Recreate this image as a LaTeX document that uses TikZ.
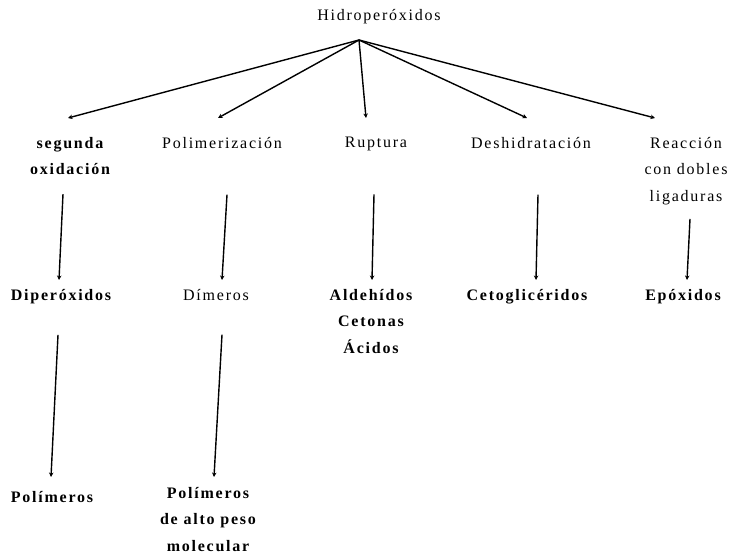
\documentclass[tikz,border=0pt]{standalone}
\usepackage{fontspec}
\setmainfont{Liberation Serif}[LetterSpace=11]
\usetikzlibrary{arrows.meta,calc}
\tikzset{
    lbl/.style={inner sep=0pt,anchor=north,align=center,font=\fontsize{16}{26.5}\selectfont},
    blbl/.style={lbl,font=\fontsize{16}{26.5}\selectfont\bfseries},
    arr/.style={line width=1.4pt,-{Stealth[length=4.5pt,width=4.5pt]}}
}

\begin{document}
\begin{tikzpicture}[x=1pt,y=-1pt]
            \useasboundingbox (0,0) rectangle (734,556);
            \node[lbl] (hid) at (379,9) {Hidroperóxidos};
            \coordinate (apex) at (359,40);
            \node[blbl] (seg) at (70,137) {segunda\\oxidación};
            \node[lbl] (pol) at (222,137) {Polimerización};
            \node[lbl] (rup) at (376,137) {Ruptura};
            \node[lbl] (des) at (531,137) {Deshidratación};
            \node[lbl] (rea) at (686,137) {Reacción\\con dobles\\ligaduras};
            \node[blbl] (dip) at (61,289) {Diperóxidos};
            \node[lbl] (dim) at (216,289) {Dímeros};
            \node[blbl] (ald) at (371,289) {Aldehídos\\Cetonas\\Ácidos};
            \node[blbl] (ceto) at (527,289) {Cetoglicéridos};
            \node[blbl] (epo) at (683,289) {Epóxidos};
            \node[blbl] (poli) at (52,491) {Polímeros};
            \node[blbl] (polalto) at (208,487) {Polímeros\\de alto peso\\molecular};
            \draw[arr] (apex) -- ([shift={(-2,-19)}]seg.north);
            \draw[arr] (apex) -- ([shift={(-4,-19)}]pol.north);
            \draw[arr] (apex) -- ([shift={(-10,-19)}]rup.north);
            \draw[arr] (apex) -- ([shift={(-4,-19)}]des.north);
            \draw[arr] (apex) -- ([shift={(-31,-19)}]rea.north);
            \draw[arr] ([shift={(-7,19)}]seg.south) -- ([shift={(-2,-9)}]dip.north);
            \draw[arr] ([shift={(5,46)}]pol.south) -- ([shift={(6,-9)}]dim.north);
            \draw[arr] ([shift={(-2,43)}]rup.south) -- ([shift={(1,-9)}]ald.north);
            \draw[arr] ([shift={(7,46)}]des.south) -- ([shift={(9,-9)}]ceto.north);
            \draw[arr] ([shift={(4,14)}]rea.south) -- ([shift={(4,-9)}]epo.north);
            \draw[arr] ([shift={(-3,31)}]dip.south) -- ([shift={(-1,-14)}]poli.north);
            \draw[arr] ([shift={(6,34)}]dim.south) -- ([shift={(6,-10)}]polalto.north);
\end{tikzpicture}
\end{document}
